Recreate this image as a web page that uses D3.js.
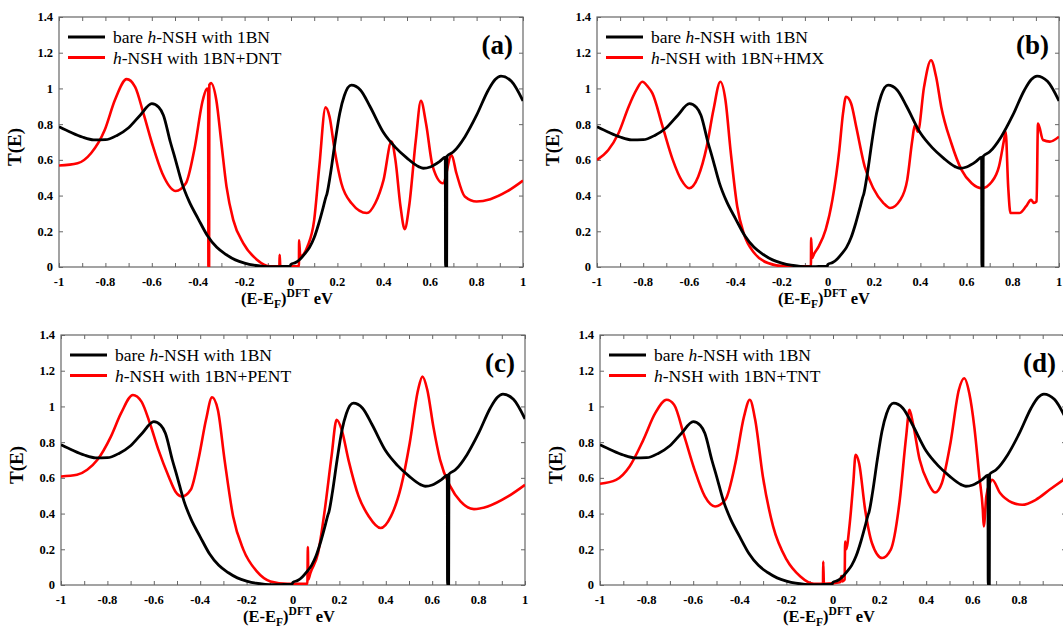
<!DOCTYPE html>
<html><head><meta charset="utf-8">
<script src="https://cdn.jsdelivr.net/npm/d3@7"></script>
<style>
html,body{margin:0;padding:0;background:#fff;}
svg{display:block;}
text{font-family:"Liberation Serif","Times New Roman",serif;}
</style></head>
<body>
<svg id="chart" width="1063" height="627"></svg>
<script>
// ---------- data (E - E_F in eV, T(E)) ----------
const xTickValues = [-1,-0.8,-0.6,-0.4,-0.2,0,0.2,0.4,0.6,0.8,1];
const yTickValues = [0,0.2,0.4,0.6,0.8,1,1.2,1.4];
const panelLabels = ["(a)","(b)","(c)","(d)"];
const moleculeNames = ["DNT","HMX","PENT","TNT"];

const bare = [[-1,0.786],[-0.95,0.755],[-0.9,0.728],[-0.85,0.712],[-0.8,0.713],[-0.75,0.737],[-0.7,0.78],[-0.65,0.85],[-0.6,0.915],[-0.57,0.895],[-0.55,0.85],[-0.52,0.70],[-0.5,0.61],[-0.47,0.47],[-0.44,0.37],[-0.4,0.27],[-0.36,0.175],[-0.32,0.11],[-0.28,0.07],[-0.24,0.04],[-0.2,0.022],[-0.16,0.01],[-0.12,0.004],[-0.08,0.002],[-0.04,0.003],[-0.005,0.004],[0.0,0.015],[0.02,0.025],[0.04,0.045],[0.06,0.075],[0.08,0.11],[0.1,0.165],[0.12,0.245],[0.14,0.34],[0.15,0.39],[0.155,0.41],[0.17,0.52],[0.19,0.70],[0.21,0.86],[0.23,0.96],[0.26,1.018],[0.3,0.99],[0.34,0.90],[0.4,0.75],[0.45,0.67],[0.5,0.61],[0.55,0.562],[0.57,0.553],[0.6,0.56],[0.64,0.59],[0.665,0.615],[0.666,0],[0.671,0],[0.672,0.62],[0.7,0.645],[0.75,0.73],[0.8,0.85],[0.85,0.99],[0.88,1.05],[0.905,1.069],[0.95,1.04],[1.0,0.93]];

const dnt = [[-1,0.568],[-0.92,0.581],[-0.862,0.637],[-0.803,0.767],[-0.759,0.935],[-0.708,1.052],[-0.672,1.009],[-0.636,0.86],[-0.599,0.693],[-0.555,0.525],[-0.497,0.426],[-0.453,0.469],[-0.417,0.655],[-0.38,0.935],[-0.362,1.0],[-0.357,0.98],[-0.356,0],[-0.353,0],[-0.352,1.02],[-0.345,1.03],[-0.322,0.935],[-0.3,0.693],[-0.278,0.45],[-0.249,0.264],[-0.206,0.134],[-0.147,0.041],[-0.089,0.004],[-0.05,0.004],[-0.049,0.069],[-0.046,0.004],[0.034,0.004],[0.035,0.149],[0.04,0.06],[0.071,0.115],[0.1,0.264],[0.122,0.562],[0.149,0.894],[0.166,0.842],[0.188,0.655],[0.217,0.469],[0.261,0.357],[0.327,0.302],[0.363,0.357],[0.399,0.488],[0.433,0.702],[0.45,0.6],[0.472,0.339],[0.49,0.212],[0.509,0.339],[0.538,0.711],[0.56,0.931],[0.582,0.804],[0.611,0.562],[0.655,0.469],[0.692,0.627],[0.713,0.525],[0.749,0.395],[0.8,0.367],[0.859,0.38],[0.931,0.423],[1.0,0.484]];

const hmx = [[-1,0.6],[-0.951,0.655],[-0.907,0.749],[-0.863,0.898],[-0.83,0.99],[-0.804,1.037],[-0.78,1.01],[-0.76,0.972],[-0.716,0.786],[-0.672,0.6],[-0.635,0.488],[-0.601,0.441],[-0.562,0.506],[-0.525,0.674],[-0.496,0.879],[-0.466,1.037],[-0.444,0.935],[-0.422,0.655],[-0.393,0.339],[-0.363,0.181],[-0.319,0.078],[-0.26,0.022],[-0.187,0.004],[-0.08,0.004],[-0.074,0.004],[-0.073,0.162],[-0.069,0.05],[-0.06,0.075],[-0.04,0.115],[-0.01,0.209],[0.019,0.376],[0.049,0.655],[0.065,0.86],[0.078,0.953],[0.1,0.916],[0.122,0.786],[0.159,0.562],[0.196,0.441],[0.24,0.358],[0.269,0.33],[0.313,0.376],[0.343,0.488],[0.365,0.711],[0.376,0.795],[0.389,0.758],[0.416,1.01],[0.446,1.158],[0.468,1.065],[0.49,0.898],[0.534,0.693],[0.578,0.544],[0.622,0.469],[0.666,0.441],[0.71,0.479],[0.74,0.562],[0.762,0.711],[0.769,0.758],[0.78,0.45],[0.79,0.302],[0.828,0.302],[0.857,0.339],[0.879,0.376],[0.891,0.358],[0.903,0.367],[0.909,0.804],[0.931,0.711],[0.96,0.702],[1.0,0.73]];

const pent = [[-1,0.608],[-0.931,0.617],[-0.887,0.645],[-0.843,0.701],[-0.785,0.831],[-0.741,0.962],[-0.69,1.064],[-0.653,1.027],[-0.617,0.906],[-0.58,0.757],[-0.536,0.608],[-0.507,0.524],[-0.478,0.496],[-0.441,0.533],[-0.405,0.72],[-0.375,0.925],[-0.349,1.051],[-0.324,0.981],[-0.295,0.701],[-0.258,0.384],[-0.214,0.198],[-0.156,0.076],[-0.097,0.02],[-0.024,0.007],[0.062,0.007],[0.064,0.213],[0.066,0.03],[0.075,0.067],[0.108,0.179],[0.137,0.421],[0.166,0.72],[0.188,0.925],[0.21,0.869],[0.239,0.701],[0.283,0.496],[0.327,0.384],[0.378,0.319],[0.422,0.384],[0.466,0.552],[0.503,0.794],[0.539,1.092],[0.558,1.167],[0.579,1.092],[0.605,0.887],[0.634,0.701],[0.678,0.552],[0.722,0.468],[0.78,0.425],[0.839,0.44],[0.927,0.496],[1.0,0.561]];

const tnt = [[-1,0.567],[-0.931,0.589],[-0.873,0.664],[-0.814,0.813],[-0.763,0.962],[-0.714,1.037],[-0.682,1.009],[-0.638,0.832],[-0.594,0.645],[-0.55,0.496],[-0.506,0.44],[-0.462,0.477],[-0.419,0.682],[-0.382,0.943],[-0.357,1.037],[-0.334,0.925],[-0.301,0.608],[-0.257,0.328],[-0.199,0.142],[-0.14,0.048],[-0.082,0.007],[-0.043,0.007],[-0.042,0.132],[-0.039,0.007],[0.03,0.015],[0.036,0.05],[0.04,0.02],[0.05,0.03],[0.052,0.244],[0.056,0.2],[0.072,0.347],[0.087,0.57],[0.097,0.729],[0.112,0.682],[0.138,0.421],[0.167,0.235],[0.211,0.151],[0.248,0.198],[0.285,0.459],[0.314,0.832],[0.328,0.981],[0.343,0.906],[0.372,0.701],[0.409,0.57],[0.438,0.518],[0.467,0.57],[0.504,0.794],[0.54,1.092],[0.563,1.158],[0.585,1.074],[0.607,0.88],[0.628,0.608],[0.643,0.421],[0.647,0.328],[0.658,0.496],[0.673,0.57],[0.683,0.589],[0.717,0.515],[0.768,0.462],[0.812,0.449],[0.87,0.477],[0.929,0.533],[1.0,0.6]];

const redSeries = [dnt, hmx, pent, tnt];

// ---------- layout ----------
const panels = [
  {x0:59,  x1:523,  y0:17,  y1:267},
  {x0:597, x1:1059, y0:17,  y1:267},
  {x0:61,  x1:525,  y0:335, y1:585},
  {x0:600, x1:1066, y0:335, y1:585}
];
const W = 1063;
const svg = d3.select("#chart");
const xMinor = d3.range(-1, 1.0001, 0.1).map(v => Math.round(v*10)/10);
const yMinor = d3.range(0, 1.4001, 0.2).map(v => Math.round(v*10)/10);
const fmt = v => (Math.abs(v) < 1e-9 ? "0" : String(+v.toFixed(1)));

panels.forEach((p, i) => {
  const x = d3.scaleLinear().domain([-1, 1]).range([p.x0, p.x1]);
  const y = d3.scaleLinear().domain([0, 1.4]).range([p.y1, p.y0]);
  const g = svg.append("g");

  const clipId = "clip" + i;
  g.append("clipPath").attr("id", clipId).append("rect")
    .attr("x", p.x0).attr("y", p.y0 - 2).attr("width", p.x1 - p.x0).attr("height", p.y1 - p.y0 + 2);

  // axes with inward ticks
  const axB = g.append("g").attr("transform", `translate(0,${p.y1})`)
    .call(d3.axisBottom(x).tickValues(xMinor).tickSize(-4).tickFormat(""));
  const axT = g.append("g").attr("transform", `translate(0,${p.y0})`)
    .call(d3.axisTop(x).tickValues(xMinor).tickSize(-4).tickFormat(""));
  const axL = g.append("g").attr("transform", `translate(${p.x0},0)`)
    .call(d3.axisLeft(y).tickValues(yMinor).tickSize(-4).tickFormat(""));
  const axR = g.append("g").attr("transform", `translate(${p.x1},0)`)
    .call(d3.axisRight(y).tickValues(yMinor).tickSize(-4).tickFormat(""));
  [axB, axT, axL, axR].forEach(a => {
    a.select(".domain").remove();
    a.selectAll(".tick line").attr("stroke", "#666").attr("stroke-width", 1);
  });
  g.append("rect").attr("x", p.x0).attr("y", p.y0)
    .attr("width", p.x1 - p.x0).attr("height", p.y1 - p.y0)
    .attr("fill", "none").attr("stroke", "#666").attr("stroke-width", 1.2);

  // tick labels (only those that fall inside the picture)
  g.append("g").selectAll("text").data(xTickValues.filter(d => x(d) < W)).join("text")
    .attr("x", d => x(d)).attr("y", p.y1 + 19)
    .attr("text-anchor", "middle").attr("font-size", 12.5).attr("font-weight", "bold")
    .text(fmt);
  g.append("g").selectAll("text").data(yTickValues).join("text")
    .attr("x", p.x0 - 6).attr("y", d => y(d)).attr("dy", "0.35em")
    .attr("text-anchor", "end").attr("font-size", 12.5).attr("font-weight", "bold")
    .text(fmt);

  // axis titles
  g.append("text")
    .attr("transform", `translate(${p.x0 - 38},${(p.y0 + p.y1) / 2 + 5}) rotate(-90)`)
    .attr("text-anchor", "middle").attr("font-size", 19).attr("font-weight", "bold")
    .text("T(E)");
  const xt = g.append("text")
    .attr("x", (p.x0 + p.x1) / 2 - 4).attr("y", p.y1 + 37)
    .attr("text-anchor", "middle").attr("font-size", 16.5).attr("font-weight", "bold");
  xt.append("tspan").text("(E-E");
  xt.append("tspan").attr("font-size", 11.5).attr("dy", 4).text("F");
  xt.append("tspan").attr("dy", -4).text(")");
  xt.append("tspan").attr("font-size", 11.5).attr("dy", -7).text("DFT");
  xt.append("tspan").attr("dy", 7).text(" eV");

  // curves
  const line = d3.line().x(d => x(d[0])).y(d => y(d[1])).curve(d3.curveMonotoneX);
  const cg = g.append("g").attr("clip-path", `url(#${clipId})`);
  cg.append("path").datum(redSeries[i]).attr("d", line)
    .attr("fill", "none").attr("stroke", "#ff0000").attr("stroke-width", 2.6)
    .attr("stroke-linejoin", "round");
  cg.append("path").datum(bare).attr("d", line)
    .attr("fill", "none").attr("stroke", "#000").attr("stroke-width", 2.8)
    .attr("stroke-linejoin", "round");

  // legend
  const lx = p.x0 + 9, ly = p.y0 + 20;
  const leg = [
    {c: "#000", parts: [["bare ", false], ["h", true], ["-NSH with 1BN", false]]},
    {c: "#ff0000", parts: [["h", true], ["-NSH with 1BN+" + moleculeNames[i], false]]}
  ];
  leg.forEach((L, k) => {
    g.append("line").attr("x1", lx).attr("x2", lx + 37)
      .attr("y1", ly + k * 20.5).attr("y2", ly + k * 20.5)
      .attr("stroke", L.c).attr("stroke-width", 3);
    const t = g.append("text").attr("x", lx + 45).attr("y", ly + k * 20.5 + 6)
      .attr("font-size", 17.5);
    L.parts.forEach(pt => t.append("tspan").attr("font-style", pt[1] ? "italic" : "normal").text(pt[0]));
  });

  // panel label
  g.append("text").attr("x", p.x1 - 10).attr("y", p.y0 + 37)
    .attr("text-anchor", "end").attr("font-size", 27).attr("font-weight", "bold")
    .text(panelLabels[i]);
});
</script>
</body></html>
